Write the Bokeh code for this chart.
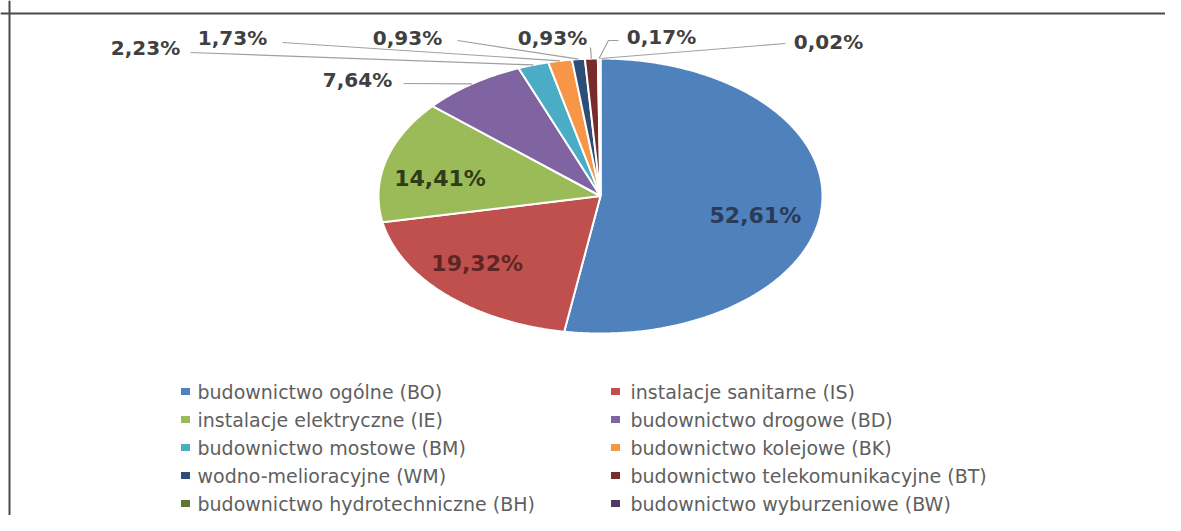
import numpy as np
from bokeh.plotting import figure
from bokeh.models import Range1d, Span, ColumnDataSource
from bokeh.core.properties import value
from bokeh.embed import file_html
from bokeh.resources import INLINE

# ---------------- data ----------------
categories = [
    "budownictwo ogólne (BO)",
    "instalacje sanitarne (IS)",
    "instalacje elektryczne (IE)",
    "budownictwo drogowe (BD)",
    "budownictwo mostowe (BM)",
    "budownictwo kolejowe (BK)",
    "wodno-melioracyjne (WM)",
    "budownictwo telekomunikacyjne (BT)",
    "budownictwo hydrotechniczne (BH)",
    "budownictwo wyburzeniowe (BW)",
]
shares = [52.61, 19.32, 14.41, 7.64, 2.23, 1.73, 0.93, 0.93, 0.17, 0.02]
colors = ["#4F81BD", "#C0504D", "#9BBB59", "#8064A2", "#4BACC6",
          "#F79646", "#2C4D75", "#772C2A", "#5F7530", "#4D3B62"]
label_texts = [f"{v:.2f}".replace(".", ",") + "%" for v in shares]

# ---------------- layout (screen pixel coordinates) ----------------
W, H = 1165, 515
CX, CY, RX, RY = 600.0, 195.5, 222.0, 137.5

inside_n = 3
inside_colors = ["#2A3B57", "#5E2623", "#2F3C18"]
inside_r = [0.70, 0.70, 0.72]
inside_dx = [0, -15, -6]
inside_dy = [12, -2, 8]

# outside labels: (center x, center y) for slices 3..9
out_pos = {3: (357, 79), 4: (145, 47), 5: (232, 37), 6: (407, 37),
           7: (552, 37), 8: (661, 36), 9: (828, 41)}
# leader line start points (near the label)
lead_start = {3: [(403, 83)], 4: [(190, 52)], 5: [(282, 42)], 6: [(457, 40)],
              7: [(590, 47)], 8: [(618, 40), (608, 40)], 9: [(785, 43)]}

p = figure(width=W, height=H, output_backend="svg", toolbar_location=None,
           x_range=Range1d(0, W), y_range=Range1d(H, 0),
           min_border=0)
p.axis.visible = False
p.grid.visible = False
p.outline_line_color = None
p.background_fill_color = "white"
p.border_fill_color = "white"

# frame lines
p.add_layout(Span(location=13, dimension="width", line_color="#4A4A4A", line_width=2))
p.add_layout(Span(location=9, dimension="height", line_color="#4A4A4A", line_width=2))

# ---------------- pie (elliptical) ----------------
total = sum(shares)
cum = np.concatenate([[0.0], np.cumsum(shares)]) / total * 2 * np.pi
xs, ys = [], []
for i in range(len(shares)):
    a0, a1 = cum[i], cum[i + 1]
    n = max(3, int((a1 - a0) / (2 * np.pi) * 720) + 2)
    t = np.linspace(a0, a1, n)
    xs.append([CX] + list(CX + RX * np.sin(t)))
    ys.append([CY] + list(CY - RY * np.cos(t)))
src = ColumnDataSource(dict(xs=xs, ys=ys, color=colors))
p.patches("xs", "ys", source=src, fill_color="color", line_color="white", line_width=2)

mid = (cum[:-1] + cum[1:]) / 2

# inside labels
ix, iy = [], []
for i in range(inside_n):
    ix.append(CX + inside_r[i] * RX * np.sin(mid[i]) + inside_dx[i])
    iy.append(CY - inside_r[i] * RY * np.cos(mid[i]) + inside_dy[i])
p.text(x=ix, y=iy, text=label_texts[:inside_n], text_color=inside_colors,
       text_font=value("DejaVu Sans"), text_font_style="bold",
       text_font_size="22px", text_align="center", text_baseline="middle")

# outside labels + leader lines
ox, oy, ot = [], [], []
lx, ly = [], []
for i in range(inside_n, len(shares)):
    ox.append(out_pos[i][0]); oy.append(out_pos[i][1]); ot.append(label_texts[i])
    ex = CX + RX * np.sin(mid[i]); ey = CY - RY * np.cos(mid[i])
    pts = lead_start[i] + [(ex, ey)]
    lx.append([q[0] for q in pts]); ly.append([q[1] for q in pts])
p.multi_line(xs=lx, ys=ly, line_color="#A0A0A0", line_width=1.2)
p.text(x=ox, y=oy, text=ot, text_color="#404040",
       text_font=value("DejaVu Sans"), text_font_style="bold",
       text_font_size="20px", text_align="center", text_baseline="middle")

# ---------------- legend ----------------
col_marker_x = [185, 615]
col_text_x = [197, 630]
row_y = [391, 419, 447, 475, 503]
mx, my, tx = [], [], []
for k in range(len(categories)):
    r, c = divmod(k, 2)
    mx.append(col_marker_x[c]); my.append(row_y[r]); tx.append(col_text_x[c])
p.rect(x=mx, y=my, width=9, height=7, fill_color=colors, line_color=None)
p.text(x=tx, y=my, text=categories, text_color="#5F5F5F",
       text_font=value("DejaVu Sans"), text_font_size="19px",
       text_align="left", text_baseline="middle")

open("out.html", "w").write(file_html(p, INLINE))
